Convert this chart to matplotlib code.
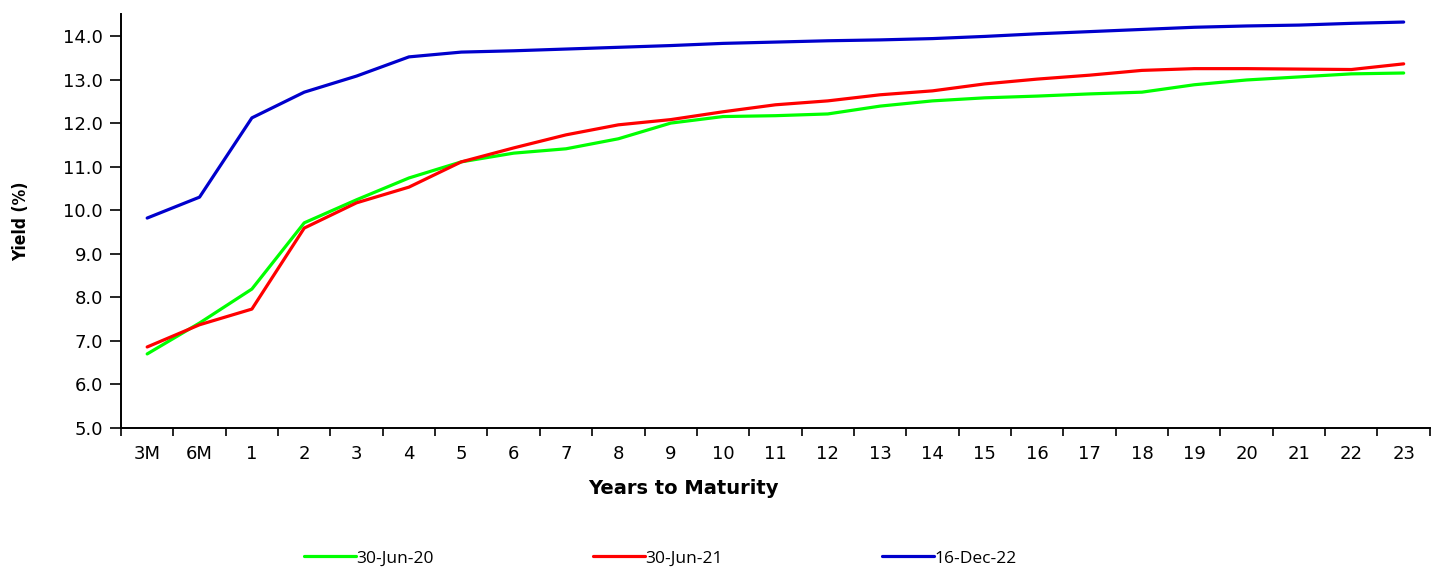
import matplotlib
matplotlib.use("Agg")
import matplotlib.pyplot as plt
import numpy as np

# tenors and yields
tenors = ["3M", "6M"] + [str(i) for i in range(1, 24)]
jun20 = [6.70, 7.41, 8.19, 9.71, 10.24, 10.74, 11.11, 11.31, 11.41, 11.64, 12.00, 12.15, 12.17,
         12.21, 12.39, 12.51, 12.58, 12.62, 12.67, 12.71, 12.88, 12.99, 13.06, 13.13, 13.15]
jun21 = [6.86, 7.37, 7.73, 9.59, 10.17, 10.53, 11.11, 11.43, 11.73, 11.96, 12.08, 12.26, 12.42,
         12.51, 12.65, 12.74, 12.90, 13.01, 13.10, 13.21, 13.25, 13.25, 13.24, 13.23, 13.36]
dec22 = [9.82, 10.30, 12.12, 12.71, 13.08, 13.52, 13.63, 13.66, 13.70, 13.74, 13.78, 13.83, 13.86,
         13.89, 13.91, 13.94, 13.99, 14.05, 14.10, 14.15, 14.20, 14.23, 14.25, 14.29, 14.32]
series_names = ["30-Jun-20", "30-Jun-21", "16-Dec-22"]
colors = ["#00FF00", "#FF0000", "#0000CC"]

fig = plt.figure(figsize=(14.32, 5.68), dpi=100)
ax = fig.add_axes([0.0845, 0.2465, 0.914, 0.7285])

x = np.arange(len(tenors))
for vals, name, c in zip([jun20, jun21, dec22], series_names, colors):
    ax.plot(x, vals, color=c, lw=2.3, label=name, solid_capstyle="round")

ax.set_xlim(-0.5, len(tenors) - 0.5)
ax.set_ylim(5.0, 14.5)
yt = np.arange(5.0, 14.01, 1.0)
ax.set_yticks(yt)
ax.set_yticklabels(["%.1f" % v for v in yt], fontsize=13)

# ticks at category boundaries, labels centred
ax.set_xticks(np.arange(-0.5, len(tenors), 1.0))
ax.set_xticklabels([])
ax.set_xticks(x, minor=True)
ax.set_xticklabels(tenors, minor=True, fontsize=13)
ax.tick_params(axis="x", which="major", direction="out", length=6, width=1.2)
ax.tick_params(axis="x", which="minor", length=0, pad=12)
ax.tick_params(axis="y", direction="out", length=8, width=1.2, pad=5)

for s in ["top", "right"]:
    ax.spines[s].set_visible(False)
for s in ["left", "bottom"]:
    ax.spines[s].set_linewidth(1.4)

ax.set_ylabel("Yield (%)", fontsize=12.5, fontweight="bold", fontstretch="condensed")
ax.yaxis.set_label_coords(-0.0695, 0.5)
ax.set_xlabel("Years to Maturity", fontsize=14, fontweight="bold")
ax.xaxis.set_label_coords(0.43, -0.123)

fig.legend(loc="lower center", bbox_to_anchor=(0.461, -0.025), ncol=3, frameon=False,
           columnspacing=9.2, handlelength=3.0, handletextpad=0.0,
           prop={"family": "Open Sans", "size": 12.5})

fig.savefig("out.png", dpi=100)
